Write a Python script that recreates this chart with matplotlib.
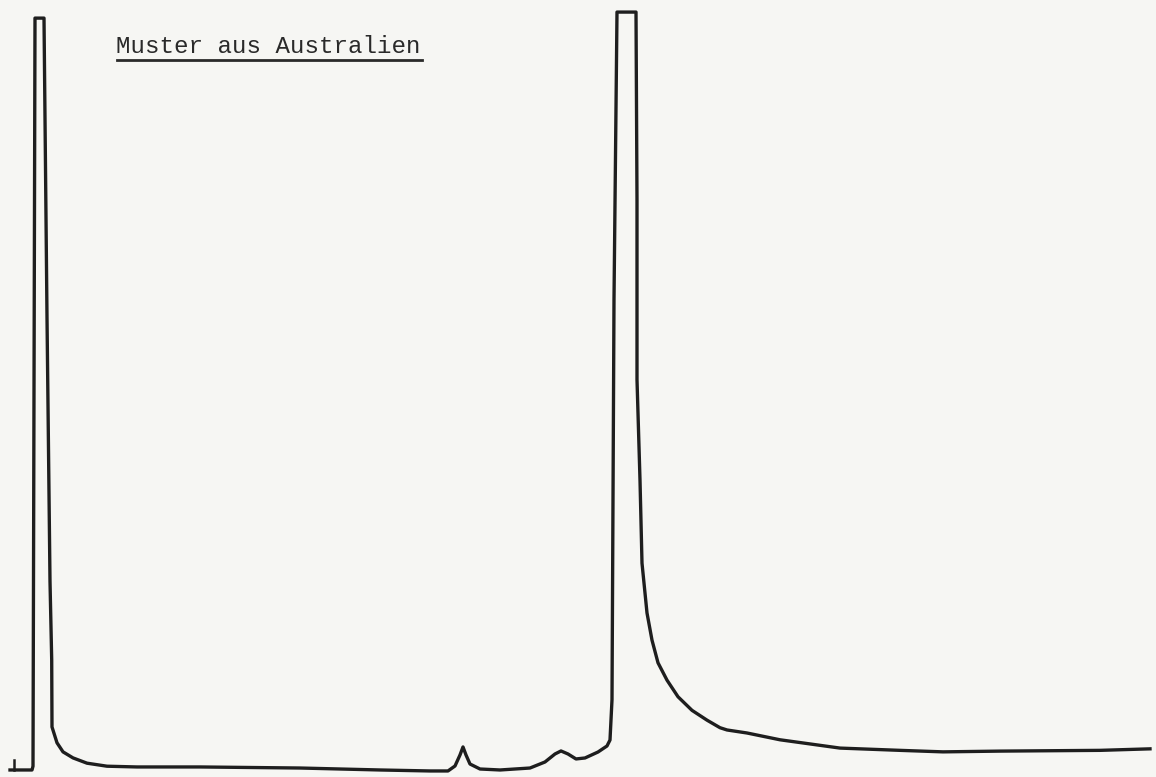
import matplotlib.pyplot as plt

# recorder trace: time (arbitrary units) vs. signal (% of full scale)
time = [1.0, 3.2, 3.3, 3.4, 3.5, 4.4, 4.7, 5.0, 5.17, 5.2, 5.7, 6.3, 7.3,
        8.7, 10.7, 13.7, 20.0, 30.0, 38.0, 43.0, 44.8, 45.5, 46.0, 46.3, 46.6,
        47.0, 48.0, 50.0, 53.0, 54.5, 55.5, 56.1, 56.8, 57.6, 58.5, 59.8, 60.7,
        61.0, 61.2, 61.4, 61.7, 63.6, 63.7, 63.7, 64.0, 64.2, 64.7, 65.2, 65.8,
        66.7, 67.8, 69.2, 70.7, 72.0, 72.7, 74.7, 78.0, 84.0, 90.0, 94.3, 100.0,
        110.0, 115.0]
signal = [0.0, 0.0, 0.5, 50.0, 99.6, 99.6, 60.0, 25.0, 14.6, 5.7, 3.6, 2.4,
          1.6, 0.9, 0.5, 0.4, 0.4, 0.26, 0.0, -0.13, -0.13, 0.53, 1.99, 3.05,
          1.99, 0.79, 0.13, 0.0, 0.26, 1.06, 2.12, 2.52, 2.12, 1.46, 1.59, 2.38,
          3.18, 3.97, 9.3, 62.3, 100.4, 100.4, 75.5, 51.7, 38.4, 27.4, 20.8,
          17.2, 14.2, 11.9, 9.7, 7.9, 6.6, 5.6, 5.3, 4.9, 4.0, 2.9, 2.6, 2.4,
          2.5, 2.6, 2.8]

# injection mark at the start
mark_time = [1.4, 1.4]
mark_signal = [1.32, 0.0]

fig = plt.figure(figsize=(11.56, 7.77), dpi=100)
fig.patch.set_facecolor('#f6f6f3')
ax = fig.add_axes([0, 0, 1, 1])
ax.set_facecolor('#f6f6f3')

ax.plot(time, signal, color='#1e1e1e', lw=2.4, solid_joinstyle='round')
ax.plot(mark_time, mark_signal, color='#1e1e1e', lw=1.8)

ax.set_xlim(0, 115.6)
ax.set_ylim(-0.93, 102.0)
ax.axis('off')

ax.text(0.1003, 0.9318, 'Muster aus Australien', transform=ax.transAxes,
        fontsize=17.4, family='Liberation Mono', color='#2a2a2a', va='baseline')
ax.plot([0.101, 0.365], [0.9225, 0.9225], transform=ax.transAxes,
        color='#2a2a2a', lw=2.0)

fig.savefig('out.png', dpi=100, facecolor=fig.get_facecolor())
